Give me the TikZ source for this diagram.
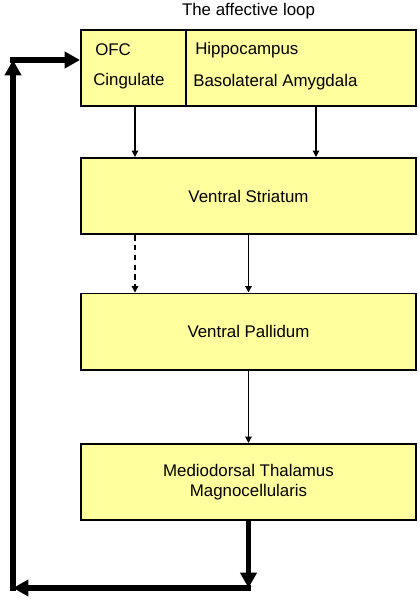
\documentclass[tikz,border=0pt]{standalone}
\usepackage{fontspec}
\setmainfont{Liberation Sans}
\usepackage{xcolor}
\usetikzlibrary{arrows.meta, positioning}

\definecolor{boxfill}{RGB}{255,255,158}

\tikzset{
  region/.style={draw, line width=1.4pt, fill=boxfill, minimum width=8.375cm, minimum height=1.9cm, align=center, font=\fontsize{12}{14}\selectfont},
  label/.style={anchor=west, inner sep=0pt, font=\fontsize{12}{14}\selectfont},
  flow/.style={line width=0.9pt, -{Triangle[length=4.5pt, width=4.5pt]}},
  loopback/.style={line width=3.6pt, -{Triangle[length=11pt, width=11.5pt]}}
}

\begin{document}
\begin{tikzpicture}[x=0.025cm, y=-0.025cm]
\useasboundingbox (0,0) rectangle (420,600);

\node[font=\fontsize{12}{14}\selectfont] (title) at (248.5, 11) {The affective loop};

\node[region] (cortex) at (248.5, 68) {};
\node[region] (vs) at (248.5, 196) {Ventral Striatum};
\node[region] (vp) at (248.5, 331.5) {Ventral Pallidum};
\node[region] (md) at (248.5, 482) {Mediodorsal Thalamus\\Magnocellularis};

% split of the cortical box
\draw[line width=0.8pt] ([xshift=2.65cm]cortex.north west) -- ([xshift=2.65cm]cortex.south west);
\node[label] (ofc) at (95, 50) {OFC};
\node[label] (cing) at (93, 81) {Cingulate};
\node[label] (hipp) at (195, 50) {Hippocampus};
\node[label] (bla) at (193, 82) {Basolateral Amygdala};

\coordinate (lcol) at (135, 0);
\coordinate (rcol) at (316, 0);

\draw[flow] (cortex.south -| lcol) -- (vs.north -| lcol);
\draw[flow] (cortex.south -| rcol) -- (vs.north -| rcol);
\draw[flow, dashed, dash pattern=on 4pt off 3pt] (vs.south -| lcol) -- (vp.north -| lcol);
\draw[flow] (vs.south) -- (vp.north);
\draw[flow] (vp.south) -- (md.north);

% thalamic return to cortex
\coordinate (lowR) at (248.5, 588);
\coordinate (lowL) at (13, 588);
\coordinate (upL) at (13, 60);

\draw[loopback] (md.south) -- (lowR);
\draw[loopback] ([xshift=1.8pt]lowR) -- (lowL);
\draw[loopback] ([yshift=-1.8pt]lowL) -- (upL);
\draw[loopback] ([xshift=-1.8pt]upL) -- (cortex.west |- upL);
\end{tikzpicture}
\end{document}
